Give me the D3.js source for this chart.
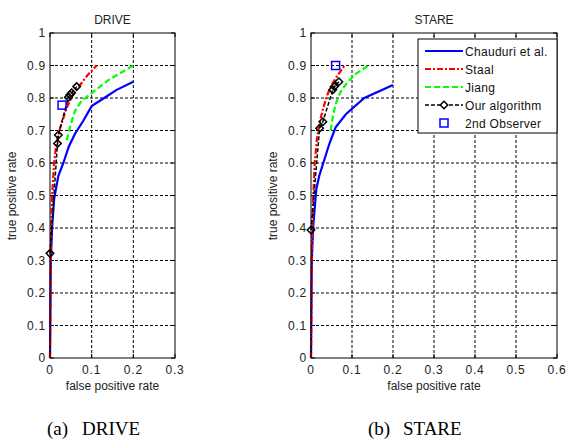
<!DOCTYPE html>
<html lang="en">
<head>
    <meta charset="UTF-8">
    <title>ROC DRIVE / STARE</title>
    <script type="application/javascript" src="https://cdnjs.cloudflare.com/ajax/libs/d3/7.8.5/d3.min.js"></script>
    <style type="text/css">
        body { margin: 0; background: #fff; }
        .tick-label { font-family: "Liberation Sans", Arial, sans-serif; font-size: 12px; letter-spacing: 0.8px; fill: #222; }
        .ax-label { font-family: "Liberation Sans", Arial, sans-serif; font-size: 12px; fill: #222; }
        .caption { font-family: "Liberation Serif", "Times New Roman", serif; font-size: 19px; fill: #000; }
        .legend-text { font-family: "Liberation Sans", Arial, sans-serif; font-size: 12px; letter-spacing: 0.3px; fill: #111; }
    </style>
</head>
<body>
<svg id="chart" width="566" height="439"></svg>
<script type="application/javascript">
    // ---- data ----
    var seriesNames = ['Chauduri et al.', 'Staal', 'Jiang', 'Our algorithm', '2nd Observer'];
    var yTicks = [0, 0.1, 0.2, 0.3, 0.4, 0.5, 0.6, 0.7, 0.8, 0.9, 1];
    var xTicksDrive = [0, 0.1, 0.2, 0.3];
    var xTicksStare = [0, 0.1, 0.2, 0.3, 0.4, 0.5, 0.6];

    // DRIVE
    var chauduriDrive = [[0, 0], [0.002, 0.3], [0.005, 0.4], [0.01, 0.49], [0.02, 0.56], [0.032, 0.6], [0.045, 0.65],
        [0.06, 0.69], [0.08, 0.73], [0.1, 0.775], [0.13, 0.8], [0.16, 0.825], [0.2, 0.85]];
    var staalDrive = [[0, 0], [0.002, 0.35], [0.005, 0.5], [0.01, 0.6], [0.015, 0.66], [0.025, 0.71], [0.04, 0.77],
        [0.055, 0.81], [0.075, 0.845], [0.09, 0.87], [0.112, 0.9]];
    var jiangDrive = [[0.04, 0.67], [0.05, 0.72], [0.06, 0.76], [0.075, 0.79], [0.1, 0.815], [0.14, 0.855], [0.2, 0.9]];
    var oursDrive = [[0, 0.322], [0.018, 0.66], [0.02, 0.686], [0.044, 0.802], [0.048, 0.81], [0.052, 0.816], [0.064, 0.835]];
    var observerDrive = [[0.029, 0.778]];

    // STARE
    var chauduriStare = [[0, 0], [0.002, 0.3], [0.005, 0.4], [0.013, 0.52], [0.02, 0.56], [0.03, 0.6], [0.045, 0.66],
        [0.06, 0.71], [0.085, 0.75], [0.13, 0.8], [0.2, 0.84]];
    var staalStare = [[0, 0], [0.002, 0.35], [0.005, 0.48], [0.009, 0.6], [0.015, 0.68], [0.022, 0.73], [0.03, 0.77],
        [0.04, 0.81], [0.05, 0.84], [0.065, 0.87], [0.082, 0.9]];
    var jiangStare = [[0.048, 0.7], [0.053, 0.74], [0.058, 0.77], [0.065, 0.8], [0.075, 0.825], [0.09, 0.85],
        [0.11, 0.875], [0.14, 0.9]];
    var oursStare = [[0, 0.394], [0.021, 0.707], [0.029, 0.727], [0.053, 0.825], [0.057, 0.835], [0.068, 0.85]];
    var observerStare = [[0.06, 0.9]];

    var styles = {
        chauduri: {color: '#0000ff', width: 2.2, dash: null},
        staal: {color: '#ff0000', width: 2.2, dash: '6,2,2,2'},
        jiang: {color: '#00ff00', width: 2.2, dash: '6,3'},
        ours: {color: '#000000', width: 1.5, dash: '4,2'}
    };

    var svg = d3.select('#chart');

    function drawPanel(cfg) {
        var g = svg.append('g');
        var x = d3.scaleLinear().domain([0, cfg.xMax]).range([cfg.left, cfg.right]);
        var y = d3.scaleLinear().domain([0, 1]).range([358, 33]);

        // grid
        g.selectAll('.gx').data(cfg.xTicks.slice(1, -1)).enter().append('line')
            .attr('x1', function (d) { return x(d); }).attr('x2', function (d) { return x(d); })
            .attr('y1', y(0)).attr('y2', y(1))
            .attr('stroke', '#000').attr('stroke-width', 1).attr('stroke-dasharray', '3,2');
        g.selectAll('.gy').data(yTicks.slice(1, -1)).enter().append('line')
            .attr('x1', x(0)).attr('x2', x(cfg.xMax))
            .attr('y1', function (d) { return y(d); }).attr('y2', function (d) { return y(d); })
            .attr('stroke', '#000').attr('stroke-width', 1).attr('stroke-dasharray', '3,2');

        // inward ticks on all sides
        var tl = 4;
        cfg.xTicks.forEach(function (d) {
            g.append('line').attr('x1', x(d)).attr('x2', x(d)).attr('y1', y(0)).attr('y2', y(0) - tl).attr('stroke', '#000');
            g.append('line').attr('x1', x(d)).attr('x2', x(d)).attr('y1', y(1)).attr('y2', y(1) + tl).attr('stroke', '#000');
        });
        yTicks.forEach(function (d) {
            g.append('line').attr('x1', x(0)).attr('x2', x(0) + tl).attr('y1', y(d)).attr('y2', y(d)).attr('stroke', '#000');
            g.append('line').attr('x1', x(cfg.xMax)).attr('x2', x(cfg.xMax) - tl).attr('y1', y(d)).attr('y2', y(d)).attr('stroke', '#000');
        });

        // tick labels
        g.selectAll('.yl').data(yTicks).enter().append('text')
            .attr('class', 'tick-label')
            .attr('x', x(0) - 4).attr('y', function (d) { return y(d) + 4; })
            .attr('text-anchor', 'end')
            .text(function (d) { return String(d); });
        g.selectAll('.xl').data(cfg.xTicks).enter().append('text')
            .attr('class', 'tick-label')
            .attr('x', function (d) { return x(d); }).attr('y', 374)
            .attr('text-anchor', 'middle')
            .text(function (d) { return String(d); });

        // curves
        var line = d3.line().x(function (d) { return x(d[0]); }).y(function (d) { return y(d[1]); });
        var order = [['chauduri', cfg.chauduri], ['jiang', cfg.jiang], ['staal', cfg.staal], ['ours', cfg.ours]];
        order.forEach(function (o) {
            var s = styles[o[0]];
            g.append('path').datum(o[1])
                .attr('d', line)
                .attr('fill', 'none')
                .attr('stroke', s.color)
                .attr('stroke-width', s.width)
                .attr('stroke-dasharray', s.dash);
        });

        // diamonds
        g.selectAll('.dm').data(cfg.ours).enter().append('path')
            .attr('d', d3.symbol().type(d3.symbolDiamond2).size(36))
            .attr('transform', function (d) { return 'translate(' + x(d[0]) + ',' + y(d[1]) + ')'; })
            .attr('fill', 'none').attr('stroke', '#000').attr('stroke-width', 1.5);

        // 2nd observer
        g.selectAll('.sq').data(cfg.observer).enter().append('rect')
            .attr('x', function (d) { return x(d[0]) - 4; })
            .attr('y', function (d) { return y(d[1]) - 4; })
            .attr('width', 8).attr('height', 8)
            .attr('fill', 'none').attr('stroke', '#0000ff').attr('stroke-width', 1.5);

        // box
        g.append('rect').attr('x', x(0)).attr('y', y(1))
            .attr('width', x(cfg.xMax) - x(0)).attr('height', y(0) - y(1))
            .attr('fill', 'none').attr('stroke', '#000').attr('stroke-width', 1);

        // titles and labels
        var cx = (x(0) + x(cfg.xMax)) / 2;
        g.append('text').attr('class', 'ax-label').attr('x', cx).attr('y', 24)
            .attr('text-anchor', 'middle').text(cfg.title);
        g.append('text').attr('class', 'ax-label').attr('x', cx).attr('y', 390)
            .attr('text-anchor', 'middle').text('false positive rate');
        g.append('text').attr('class', 'ax-label')
            .attr('transform', 'translate(' + (x(0) - 34) + ',' + 196 + ') rotate(-90)')
            .attr('text-anchor', 'middle').text('true positive rate');

        // caption
        g.append('text').attr('class', 'caption').attr('x', cfg.capX).attr('y', 435).text(cfg.capTag);
        g.append('text').attr('class', 'caption').attr('x', cfg.capX + 35).attr('y', 435).text(cfg.title);

        return {x: x, y: y};
    }

    drawPanel({
        title: 'DRIVE', left: 50, right: 175, xMax: 0.3, xTicks: xTicksDrive,
        chauduri: chauduriDrive, staal: staalDrive, jiang: jiangDrive, ours: oursDrive, observer: observerDrive,
        capX: 47, capTag: '(a)'
    });
    drawPanel({
        title: 'STARE', left: 311, right: 557, xMax: 0.6, xTicks: xTicksStare,
        chauduri: chauduriStare, staal: staalStare, jiang: jiangStare, ours: oursStare, observer: observerStare,
        capX: 368, capTag: '(b)'
    });

    // legend (STARE panel)
    var lg = svg.append('g');
    lg.append('rect').attr('x', 418).attr('y', 39).attr('width', 139).attr('height', 94)
        .attr('fill', '#fff').attr('stroke', '#000').attr('stroke-width', 1);
    var rowY = d3.scalePoint().domain(seriesNames).range([51, 123]);
    var keys = ['chauduri', 'staal', 'jiang', 'ours'];
    keys.forEach(function (k, i) {
        var s = styles[k];
        var yy = rowY(seriesNames[i]);
        lg.append('line').attr('x1', 425).attr('x2', 463).attr('y1', yy).attr('y2', yy)
            .attr('stroke', s.color).attr('stroke-width', s.width).attr('stroke-dasharray', s.dash);
    });
    lg.append('path')
        .attr('d', d3.symbol().type(d3.symbolDiamond2).size(36))
        .attr('transform', 'translate(444,' + rowY(seriesNames[3]) + ')')
        .attr('fill', '#fff').attr('stroke', '#000').attr('stroke-width', 1.5);
    lg.append('rect').attr('x', 440).attr('y', rowY(seriesNames[4]) - 4).attr('width', 8).attr('height', 8)
        .attr('fill', 'none').attr('stroke', '#0000ff').attr('stroke-width', 1.5);
    lg.selectAll('.lt').data(seriesNames).enter().append('text')
        .attr('class', 'legend-text')
        .attr('x', 465)
        .attr('y', function (d) { return rowY(d) + 4.5; })
        .text(function (d, i) { return i === 3 ? ' ' + d : d; });
</script>
</body>
</html>
